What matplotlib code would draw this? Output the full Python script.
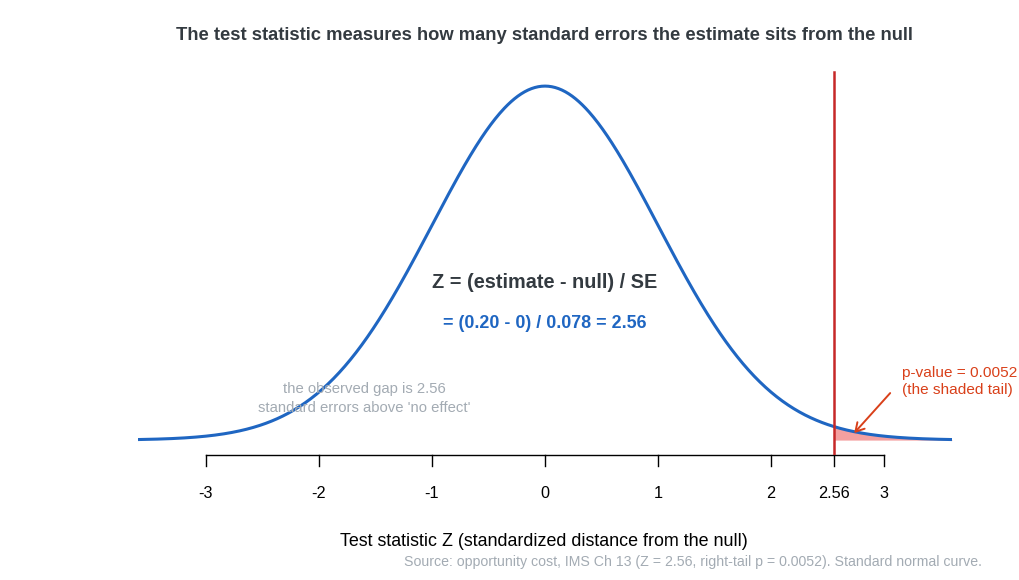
import numpy as np
import matplotlib
matplotlib.use("Agg")
import matplotlib.pyplot as plt

plt.rcParams['font.family'] = ['Liberation Sans', 'DejaVu Sans']

# Data
z_obs = 2.56
p_value = 0.0052
estimate = 0.20
null_value = 0
se = 0.078
x_min, x_max = -3.6, 3.6
tick_values = [-3, -2, -1, 0, 1, 2, 2.56, 3]
tick_labels = ["-3", "-2", "-1", "0", "1", "2", "2.56", "3"]

z = np.linspace(x_min, x_max, 721)
dens = np.exp(-z ** 2 / 2) / np.sqrt(2 * np.pi)
tail = z >= z_obs

W, H = 1020, 580
fig = plt.figure(figsize=(W / 100, H / 100), dpi=100)
left, right = 138 / W, 952 / W
bottom, top = (H - 455) / H, (H - 52.5) / H
ax = fig.add_axes([left, bottom, right - left, top - bottom])
ax.set_xlim(x_min, x_max)
ax.set_ylim(-0.0168, 0.4368)
for s in ax.spines.values():
    s.set_visible(False)
ax.set_yticks([])
ax.set_xticks([])

blue = "#1f66c2"
red = "#c62828"
orange = "#d9401a"

ax.fill_between(z[tail], 0, dens[tail], color="#f4a0a0", lw=0, zorder=1)
ax.plot(z, dens, color=blue, lw=2.2, zorder=3, solid_capstyle="butt")
ax.plot([z_obs, z_obs], [-0.0168, dens.max() * 1.04], color=red, lw=1.8, zorder=4)

# custom axis like R: line from first to last tick
ax.plot([-3, 3], [-0.0168, -0.0168], color="black", lw=1, clip_on=False, zorder=2)
for tv, tl in zip(tick_values, tick_labels):
    ax.plot([tv, tv], [-0.0168, -0.0168 - 11 / 887], color="black", lw=1, clip_on=False)
    ax.text(tv, -0.0168 - 38 / 887, tl, ha="center", va="center", fontsize=11.7,
            color="black")

ax.text(0, (440 - 282) / 887, "Z = (estimate - null) / SE", ha="center", va="center",
        fontsize=14.3, fontweight="bold", color="#333a40")
ax.text(0, (440 - 323) / 887,
        f"= ({estimate:.2f} - {null_value}) / {se:.3f} = {z_obs:.2f}",
        ha="center", va="center", fontsize=12.9, fontweight="bold", color=blue)

ax.text((363 - 544) / 113, (440 - 398.5) / 887,
        f"the observed gap is {z_obs:.2f}\nstandard errors above 'no effect'",
        ha="center", va="center", fontsize=10.7, color="#a3abb3", linespacing=1.38)

ax.text((901 - 544) / 113, (440 - 381) / 887,
        f"p-value = {p_value}\n(the shaded tail)", ha="left", va="center",
        fontsize=11.1, color=orange, linespacing=1.28)
ax.annotate("", xy=((853 - 544) / 113, (440 - 433) / 887),
            xytext=((889 - 544) / 113, (440 - 393) / 887),
            arrowprops=dict(arrowstyle="->,head_length=0.6,head_width=0.35",
                            color=orange, lw=1.4, shrinkA=0, shrinkB=0))

fig.text(544 / W, 1 - 35 / H,
         "The test statistic measures how many standard errors the estimate sits from the null",
         ha="center", va="center", fontsize=13.2, fontweight="bold", color="#333a40")
fig.text(544 / W, 1 - 541 / H, "Test statistic Z (standardized distance from the null)",
         ha="center", va="center", fontsize=12.9, color="black")
fig.text(982 / W, 1 - 562 / H,
         f"Source: opportunity cost, IMS Ch 13 (Z = {z_obs:.2f}, right-tail p = {p_value}). Standard normal curve.",
         ha="right", va="center", fontsize=10.2, color="#a3abb3")

fig.savefig("out.png", dpi=100)
